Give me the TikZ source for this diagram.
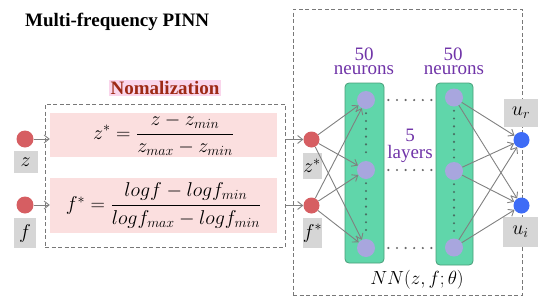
\RequirePackage{fix-cm}
\documentclass[tikz,border=0pt]{standalone}
\usepackage{amsmath}
\usepackage{fontspec}
\setmainfont{Liberation Serif}
\usepackage{tikz}
\usetikzlibrary{arrows.meta, positioning, calc}

\definecolor{dashgray}{RGB}{120,120,120}
\definecolor{formpink}{RGB}{251,223,223}
\definecolor{titlepink}{RGB}{250,214,236}
\definecolor{normred}{RGB}{158,42,22}
\definecolor{labelgray}{RGB}{214,214,214}
\definecolor{inred}{RGB}{214,94,98}
\definecolor{neuronblue}{RGB}{168,166,222}
\definecolor{outblue}{RGB}{62,108,246}
\definecolor{layergreen}{RGB}{96,214,170}
\definecolor{layerdark}{RGB}{72,158,120}
\definecolor{conngray}{RGB}{128,128,128}
\definecolor{dotgreen}{RGB}{72,112,100}
\definecolor{dotgray}{RGB}{105,105,105}
\definecolor{neuronpurple}{RGB}{112,52,168}

\tikzset{
  dashbox/.style={draw=dashgray, dash pattern=on 4pt off 2.5pt, line width=1pt, inner sep=0pt},
  pinkbox/.style={fill=formpink, inner sep=0pt, font=\fontsize{20}{24}\selectfont},
  graybox/.style={fill=labelgray, inner sep=0pt, font=\fontsize{20}{20}\selectfont},
  inball/.style={circle, fill=inred, minimum size=17pt, inner sep=0pt},
  neuron/.style={circle, fill=neuronblue, minimum size=18pt, inner sep=0pt},
  outball/.style={circle, fill=outblue, minimum size=16pt, inner sep=0pt},
  layerbox/.style={draw=layerdark, fill=layergreen, rounded corners=4pt, line width=0.8pt, inner sep=0pt},
  conn/.style={draw=conngray, line width=0.9pt, -{Straight Barb[length=5pt,width=8pt]}},
  vdots/.style={draw=dotgreen, line width=2.4pt, line cap=round, dash pattern=on 0pt off 7.8pt, shorten >=4pt, shorten <=4pt},
  hdots/.style={draw=dotgray, line width=2.4pt, line cap=round, dash pattern=on 0pt off 8.6pt, shorten >=4pt, shorten <=4pt},
  countlabel/.style={text=neuronpurple, anchor=base, inner sep=0pt, font=\fontsize{19}{19}\selectfont},
}

\begin{document}
\begin{tikzpicture}[x=1pt,y=-1pt]
    \useasboundingbox (0,0) rectangle (550,306);

    % Title
    \node[anchor=base west, inner sep=0pt, font=\fontsize{19}{19}\selectfont\bfseries] (title) at (25,26) {Multi-frequency PINN};

    % Normalization block
    \node[fill=titlepink, inner sep=1.5pt, text=normred, font=\fontsize{19}{19}\selectfont\bfseries] (normtitle) at (165,88) {Nomalization};
    \node[dashbox, minimum width=240pt, minimum height=143pt] (norm) at (165,175.5) {};
    \node[pinkbox, minimum width=227pt, minimum height=44pt] (zbox) at (163.5,135)
        {$z^{*}=\dfrac{z-z_{min}}{z_{max}-z_{min}}$};
    \node[pinkbox, minimum width=227pt, minimum height=55pt] (fbox) at (163.5,205.5)
        {$f^{*}=\dfrac{logf-logf_{min}}{logf_{max}-logf_{min}}$};

    % Raw inputs
    \node[inball] (zin) at (25,139) {};
    \node[inball] (fin) at (25,205) {};
    \node[graybox, minimum width=24pt, minimum height=22pt] (zlab) at (25.5,162) {$z$};
    \node[graybox, minimum width=22pt, minimum height=30pt] (flab) at (25,233) {$f$};
    \draw[conn] (zin) -- (zbox.west |- zin);
    \draw[conn] (fin) -- (fbox.west |- fin);

    % Network block
    \node[dashbox, minimum width=229pt, minimum height=286pt] (nn) at (407.5,152) {};
    \node[font=\fontsize{19}{19}\selectfont] (nnlab) at (417,280) {$NN(z,f;\theta)$};

    % Hidden layers
    \node[layerbox, minimum width=39pt, minimum height=180pt] (L1) at (364.5,173) {};
    \node[layerbox, minimum width=37pt, minimum height=182pt] (L2) at (454.5,174) {};
    \node[countlabel] (L1num) at (364,60.5) {50};
    \node[countlabel] (L1txt) at (364,74) {neurons};
    \node[countlabel] (L2num) at (453,60.5) {50};
    \node[countlabel] (L2txt) at (454,74) {neurons};
    \node[countlabel] (depthnum) at (410,141.5) {5};
    \node[countlabel] (depthtxt) at (410,158) {layers};

    % Neurons
    \node[neuron] (a1) at (366,100) {};
    \node[neuron] (a2) at (366,170) {};
    \node[neuron] (a3) at (366,248) {};
    \node[neuron] (b1) at (454,97.5) {};
    \node[neuron] (b2) at (454,171) {};
    \node[neuron] (b3) at (454,247.5) {};
    \draw[vdots] (a1) -- (a2);
    \draw[vdots] (a2) -- (a3);
    \draw[vdots] (b1) -- (b2);
    \draw[vdots] (b2) -- (b3);
    \draw[hdots] (L1.east |- a1) -- (L2.west |- a1);
    \draw[hdots] (L1.east |- a2) -- (L2.west |- a2);
    \draw[hdots] (L1.east |- a3) -- (L2.west |- a3);

    % Normalized inputs
    \node[inball, minimum size=16pt] (zs) at (311.5,139.5) {};
    \node[inball, minimum size=16pt] (fs) at (311.5,205.5) {};
    \node[graybox, minimum width=19pt, minimum height=26pt] (zslab) at (312,166) {$z^{*}$};
    \node[graybox, minimum width=17pt, minimum height=30pt] (fslab) at (312.5,233) {$f^{*}$};
    \draw[conn] (norm.east |- zs) -- (zs);
    \draw[conn] (norm.east |- fs) -- (fs);

    % Outputs
    \node[outball] (ur) at (521.5,140) {};
    \node[outball] (ui) at (521.5,205.5) {};
    \node[graybox, minimum width=34pt, minimum height=28pt] (urlab) at (521,113) {$u_r$};
    \node[graybox, minimum width=35pt, minimum height=30pt] (uilab) at (520.5,232) {$u_i$};

    % Connections
    \foreach \src in {zs,fs}
        \foreach \dst in {a1,a2,a3}
            \draw[conn] (\src) -- (\dst);
    \foreach \src in {b1,b2,b3}
        \foreach \dst in {ur,ui}
            \draw[conn] (\src) -- (\dst);
\end{tikzpicture}
\end{document}
